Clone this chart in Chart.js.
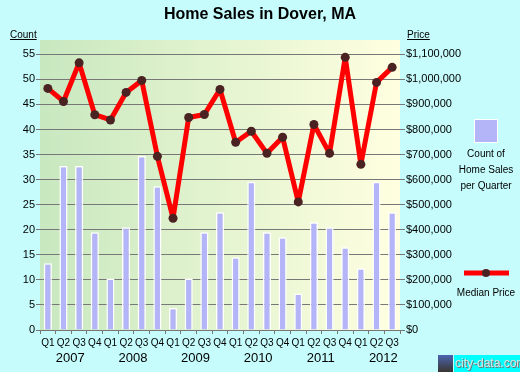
<!DOCTYPE html>
<html>
<head>
<meta charset="utf-8">
<script src="https://cdn.jsdelivr.net/npm/chart.js@4.4.1/dist/chart.umd.min.js"></script>
<style>
  html, body { margin: 0; padding: 0; background: #c6fcfc; }
  #chart { display: block; }
</style>
</head>
<body>
<canvas id="chart" width="520" height="372"></canvas>
<script>
// ── Data ──────────────────────────────────────────────────────────────────────
const QUARTERS = ['Q1','Q2','Q3','Q4','Q1','Q2','Q3','Q4','Q1','Q2','Q3','Q4',
                  'Q1','Q2','Q3','Q4','Q1','Q2','Q3','Q4','Q1','Q2','Q3'];
const YEARS = ['2007', '2008', '2009', '2010', '2011', '2012'];
const SALES_COUNT = [13.3, 32.7, 32.7, 19.5, 10.3, 20.5, 34.7, 28.7, 4.4, 10.3, 19.5, 23.5,
                     14.5, 29.6, 19.5, 18.5, 7.3, 21.5, 20.5, 16.5, 12.3, 29.6, 23.5];
const MEDIAN_PRICE = [964000, 912000, 1066000, 859000, 838000, 948000, 996000, 693000,
                      446000, 848000, 860000, 960000, 749000, 793000, 705000, 769000,
                      511000, 820000, 705000, 1088000, 661000, 988000, 1048000];
const COUNT_TICKS = [0, 5, 10, 15, 20, 25, 30, 35, 40, 45, 50, 55];
const PRICE_TICKS = [0, 100000, 200000, 300000, 400000, 500000, 600000,
                     700000, 800000, 900000, 1000000, 1100000];

const COUNT_MAX = 57.86;
const PRICE_PER_COUNT = 20000;   // $1,100,000 sits on the 55 line

const FONT = "'Liberation Sans', Arial, sans-serif";
const BG = '#c6fcfc';
const GRID = '#777777';
const BAR = '#b4b4f8';
const LINE_RED = '#ff0000';
const DOT = '#4a2222';

// ── Plugins ───────────────────────────────────────────────────────────────────
const backdrop = {
  id: 'backdrop',
  beforeDraw(chart) {
    const { ctx, chartArea: a } = chart;
    ctx.save();
    ctx.fillStyle = BG;
    ctx.fillRect(0, 0, chart.width, chart.height);
    const g = ctx.createLinearGradient(a.left, 0, a.right, 0);
    g.addColorStop(0, '#c8e8c0');
    g.addColorStop(1, '#ffffe0');
    ctx.fillStyle = g;
    ctx.fillRect(a.left, a.top, a.right - a.left, a.bottom - a.top);
    ctx.restore();
  }
};

function underlined(ctx, text, x, y) {
  ctx.fillText(text, x, y);
  const w = ctx.measureText(text).width;
  ctx.fillRect(x, y + 1, w, 1);
}

const decorations = {
  id: 'decorations',
  afterDraw(chart) {
    const { ctx } = chart;
    const xs = chart.scales.x;
    ctx.save();
    ctx.fillStyle = '#000';

    // title
    ctx.font = `bold 16px ${FONT}`;
    ctx.textAlign = 'center';
    ctx.textBaseline = 'middle';
    ctx.fillText('Home Sales in Dover, MA', 260, 15);

    // axis captions
    ctx.font = `10px ${FONT}`;
    ctx.textAlign = 'left';
    ctx.textBaseline = 'alphabetic';
    underlined(ctx, 'Count', 10, 38);
    underlined(ctx, 'Price', 407, 38);

    // year labels, centred over four quarters
    const step = xs.getPixelForValue(1) - xs.getPixelForValue(0);
    ctx.font = `13px ${FONT}`;
    ctx.textAlign = 'center';
    ctx.textBaseline = 'middle';
    YEARS.forEach((yr, i) => {
      const first = xs.getPixelForValue(i * 4);
      ctx.fillText(yr, first + 1.5 * step - 1, 358);
    });

    // legend: bars
    ctx.fillStyle = '#ffffff';
    ctx.fillRect(474, 119, 24, 24);
    ctx.fillStyle = BAR;
    ctx.fillRect(475, 120, 22, 22);
    ctx.fillStyle = '#000';
    ctx.font = `10px ${FONT}`;
    ctx.fillText('Count of', 486, 154);
    ctx.fillText('Home Sales', 486, 170);
    ctx.fillText('per Quarter', 486, 186);

    // legend: line
    ctx.strokeStyle = LINE_RED;
    ctx.lineWidth = 5;
    ctx.beginPath();
    ctx.moveTo(464, 273);
    ctx.lineTo(509, 273);
    ctx.stroke();
    ctx.fillStyle = DOT;
    ctx.beginPath();
    ctx.arc(486, 273, 4, 0, Math.PI * 2);
    ctx.fill();
    ctx.fillStyle = '#000';
    ctx.fillText('Median Price', 486, 293);

    // city-data.com badge
    const lg = ctx.createLinearGradient(0, 355, 0, 372);
    lg.addColorStop(0, '#4a64b0');
    lg.addColorStop(1, '#3a3630');
    ctx.fillStyle = lg;
    ctx.fillRect(438, 355, 15, 17);
    ctx.fillStyle = '#00ffff';
    ctx.fillRect(454, 355, 66, 17);
    ctx.font = `12px ${FONT}`;
    ctx.textAlign = 'left';
    ctx.fillStyle = '#707070';
    ctx.fillText('city-data.com', 456, 365);
    ctx.fillStyle = '#e0e0e0';
    ctx.fillText('city-data.com', 455, 364);
    ctx.restore();
  }
};

function fixedTicks(values) {
  return scale => { scale.ticks = values.map(v => ({ value: v })); };
}

// ── Chart ─────────────────────────────────────────────────────────────────────
new Chart(document.getElementById('chart'), {
  data: {
    labels: QUARTERS,
    datasets: [
      {
        type: 'line',
        label: 'Median Price',
        data: MEDIAN_PRICE,
        yAxisID: 'y2',
        order: 0,
        borderColor: LINE_RED,
        borderWidth: 5,
        borderJoinStyle: 'round',
        borderCapStyle: 'round',
        pointRadius: 4.5,
        pointBackgroundColor: DOT,
        pointBorderWidth: 0,
        tension: 0,
      },
      {
        type: 'bar',
        label: 'Count of Home Sales per Quarter',
        data: SALES_COUNT,
        yAxisID: 'y',
        order: 1,
        backgroundColor: BAR,
        borderColor: '#ffffff',
        borderWidth: 1.5,
        barPercentage: 0.52,
        categoryPercentage: 1,
      }
    ]
  },
  options: {
    responsive: false,
    animation: false,
    layout: { padding: { top: 40, left: 0, right: 0, bottom: 0 } },
    plugins: { legend: { display: false }, title: { display: false }, tooltip: { enabled: false } },
    scales: {
      x: {
        type: 'category',
        offset: true,
        grid: { drawOnChartArea: false, drawTicks: true, tickLength: 4, color: GRID, offset: true },
        border: { display: true, color: GRID },
        ticks: { color: '#000', font: { family: FONT, size: 10 }, autoSkip: false, maxRotation: 0, padding: 3 },
        afterFit: s => { s.height = 42; }
      },
      y: {
        type: 'linear',
        position: 'left',
        min: 0,
        max: COUNT_MAX,
        afterBuildTicks: fixedTicks(COUNT_TICKS),
        grid: { color: GRID, tickLength: 4 },
        border: { display: false },
        ticks: { autoSkip: false, color: '#000', font: { family: FONT, size: 11 }, padding: 1 },
        afterFit: s => { s.width = 40; }
      },
      y2: {
        type: 'linear',
        position: 'right',
        min: 0,
        max: COUNT_MAX * PRICE_PER_COUNT,
        afterBuildTicks: fixedTicks(PRICE_TICKS),
        grid: { drawOnChartArea: false, color: GRID, tickLength: 5 },
        border: { display: false },
        ticks: {
          autoSkip: false,
          color: '#000',
          font: { family: FONT, size: 11 },
          padding: 1,
          callback: v => '$' + Number(v).toLocaleString('en-US')
        },
        afterFit: s => { s.width = 120; }
      }
    }
  },
  plugins: [backdrop, decorations]
});
</script>
</body>
</html>
